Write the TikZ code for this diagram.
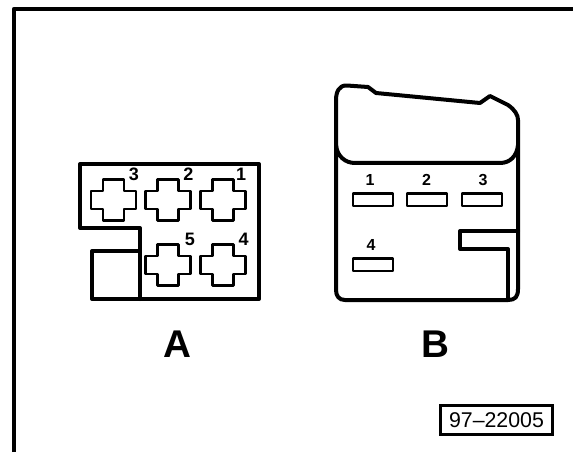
\documentclass[tikz,border=0pt]{standalone}
\usepackage{fontspec}
\setmainfont{Liberation Sans}
\usetikzlibrary{calc}
\def\drawframe{\draw[line width=3.2pt,line join=round]}
\def\drawpart{\draw[line width=3pt,line join=round,line cap=round]}
\def\drawpin{\draw[line width=2pt,line join=round]}
\def\crosslabel{\node[inner sep=0pt,font=\bfseries\fontsize{13.5pt}{14pt}\selectfont]}
\def\pinlabel{\node[inner sep=0pt,font=\bfseries\fontsize{12pt}{13pt}\selectfont]}
\def\partlabel{\node[inner sep=0pt,font=\bfseries\fontsize{29pt}{30pt}\selectfont]}

\begin{document}
\begin{tikzpicture}[x=0.75pt,y=-0.75pt]
\useasboundingbox (0,0) rectangle (573,452);

% outer frame, open to the right and to the bottom
\coordinate (frame_bl) at (14,452);
\coordinate (frame_tl) at (14,9);
\coordinate (frame_tr) at (573,9);
\drawframe (frame_bl) -- (frame_tl) -- (frame_tr);

% -------- connector A ---------
\coordinate (a_tl) at (80,164);
\coordinate (a_tr) at (259,164);
\coordinate (a_br) at (259,299);
\coordinate (a_bl) at (92,299);
\coordinate (a_foot) at (140,299);
\coordinate (a_sq) at (92,251);
\coordinate (a_step) at (140,251);
\coordinate (a_in) at (140,228);
\coordinate (a_out) at (80,228);
\drawpart (a_tl) -- (a_tr) -- (a_br) -- (a_bl) -- (a_sq) -- (a_step) -- (a_in) -- (a_out) -- cycle;
\drawpart (a_step) -- (a_foot);

% the cross shaped pins, all relative to their centre (o)
\foreach \cx/\cy in {113.5/200,168/200,223/200,168/265,223/265} {
  \coordinate (o) at (\cx,\cy);
  \drawpin ($ (o) + (-10.5,-20.5) $) -- ($ (o) + (10.5,-20.5) $) -- ($ (o) + (10.5,-9) $)
    -- ($ (o) + (22.5,-9) $) -- ($ (o) + (22.5,9) $) -- ($ (o) + (10.5,9) $)
    -- ($ (o) + (10.5,20.5) $) -- ($ (o) + (-10.5,20.5) $) -- ($ (o) + (-10.5,9) $)
    -- ($ (o) + (-22.5,9) $) -- ($ (o) + (-22.5,-9) $) -- ($ (o) + (-10.5,-9) $) -- cycle;
}
\crosslabel (a3) at (134,174) {3};
\crosslabel (a2) at (188.5,174) {2};
\crosslabel (a1) at (241,174) {1};
\crosslabel (a5) at (190,239) {5};
\crosslabel (a4) at (243.5,239) {4};
\partlabel (labA) at (177,344) {A};
% ------ end connector A ------

% -------- connector B ---------
\coordinate (b_lt) at (336,100);
\coordinate (b_lb) at (336,290);
\coordinate (b_rb) at (518,300);
\coordinate (b_rt) at (518,120);
\drawpart (b_lb) -- (b_lt) .. controls (336,92) and (339,85) .. (347,85.5) -- (368,87) -- (376,93)
  -- (480,103) -- (490,96) -- (508,105) .. controls (515,110) and (518,115) .. (b_rt)
  -- ($ (b_rb) + (0,-11) $) .. controls ($ (b_rb) + (0,-3) $) and ($ (b_rb) + (-3,0) $) .. ($ (b_rb) + (-10,0) $)
  -- (345,300) .. controls (339,300) and (336,296) .. (b_lb);
\drawpart (336,145) .. controls (337,156) and (345,163) .. (355,163)
  -- (500,163) .. controls (510,163) and (517,156) .. (518,145);

% notch on the right
\coordinate (n_top) at (518,231);
\coordinate (n_tl) at (460,231);
\coordinate (n_bl) at (460,249);
\coordinate (n_br) at (508,249);
\coordinate (n_foot) at (508,300);
\drawpart (n_top) -- (n_tl) -- (n_bl) -- (n_br) -- (n_foot);

% flat pins
\foreach \sx/\sy in {353/200,407/200,462/200,353/265} {
  \drawpin (\sx,\sy-6.5) rectangle (\sx+40,\sy+6);
}
\pinlabel (b1) at (370,180) {1};
\pinlabel (b2) at (426.5,180) {2};
\pinlabel (b3) at (483,180) {3};
\pinlabel (b4) at (371,245) {4};
\partlabel (labB) at (435,344) {B};
% ------ end connector B ------

% figure number
\node[draw,line width=2pt,minimum width=84pt,minimum height=22pt,inner sep=0pt,
  font=\fontsize{16pt}{17pt}\selectfont] (number) at (496.5,420) {97–22005};
\end{tikzpicture}
\end{document}
